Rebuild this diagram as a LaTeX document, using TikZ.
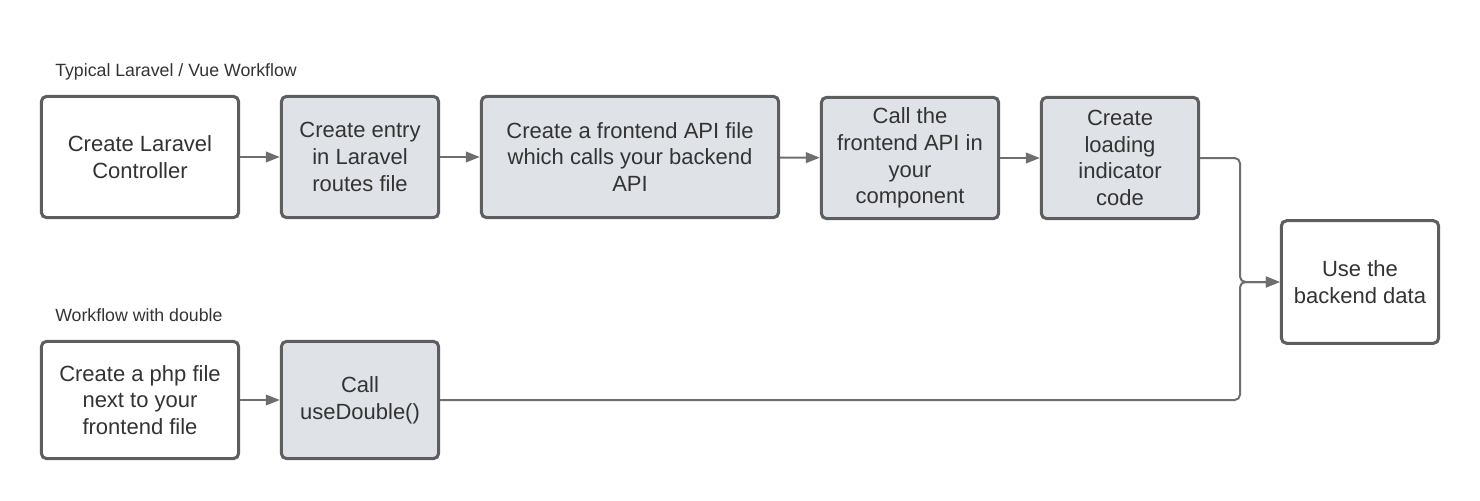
\documentclass[tikz,border=0pt]{standalone}
\usepackage{fontspec}
\setmainfont{Liberation Sans}
\usetikzlibrary{arrows.meta}
\definecolor{boxline}{HTML}{5E5E5E}
\definecolor{boxfill}{HTML}{DFE2E7}
\definecolor{txt}{HTML}{333333}
\definecolor{wirecol}{HTML}{6E6E6E}
\tikzset{
  plainbox/.style={draw=boxline, line width=2.3pt, rounded corners=4pt,
    fill=white, align=center, text=txt, inner sep=0pt,
    font=\fontsize{16.5}{20}\selectfont},
  greybox/.style={plainbox, fill=boxfill},
  heading/.style={anchor=base west, text=txt, inner sep=0pt,
    font=\fontsize{13.3}{15}\selectfont},
  wire/.style={draw=wirecol, line width=1.5pt, rounded corners=4pt,
    -{Triangle[length=10.5pt,width=8pt]}}
}
\begin{document}
\begin{tikzpicture}[x=0.75pt,y=-0.75pt]
\useasboundingbox (0,0) rectangle (1480,500);
% captions
\node[heading] (capTop) at (55,76) {Typical Laravel / Vue Workflow};
\node[heading] (capBot) at (55,321) {Workflow with double};
% typical workflow
\node[plainbox, minimum width=148pt, minimum height=91pt] (ctrl) at (140,157)
  {Create Laravel\\Controller};
\node[greybox, minimum width=118pt, minimum height=91pt] (route) at (360,157)
  {Create entry\\in Laravel\\routes file};
\node[greybox, minimum width=223pt, minimum height=91pt] (api) at (630,157)
  {Create a frontend API file\\which calls your backend\\API};
\node[greybox, minimum width=133pt, minimum height=91pt] (call) at (910,158)
  {Call the\\frontend API in\\your\\component};
\node[greybox, minimum width=118pt, minimum height=91pt] (load) at (1120,158)
  {Create\\loading\\indicator\\code};
% result
\node[plainbox, minimum width=118pt, minimum height=92pt] (use) at (1360,282)
  {Use the\\backend data};
% workflow with double
\node[plainbox, minimum width=148pt, minimum height=88pt] (php) at (140,400)
  {Create a php file\\next to your\\frontend file};
\node[greybox, minimum width=118pt, minimum height=88pt] (dbl) at (360,400)
  {Call\\useDouble()};
% connectors
\draw[wire] (ctrl) -- (route);
\draw[wire] (route) -- (api);
\draw[wire] (api) -- (call);
\draw[wire] (call) -- (load);
\draw[wire] (load.east) -- (1240,158) -- (1240,282) -- (use.west);
\draw[wire] (dbl.east) -- (1240,400) -- (1240,282) -- (use.west);
\draw[wire] (php) -- (dbl);
\end{tikzpicture}
\end{document}
